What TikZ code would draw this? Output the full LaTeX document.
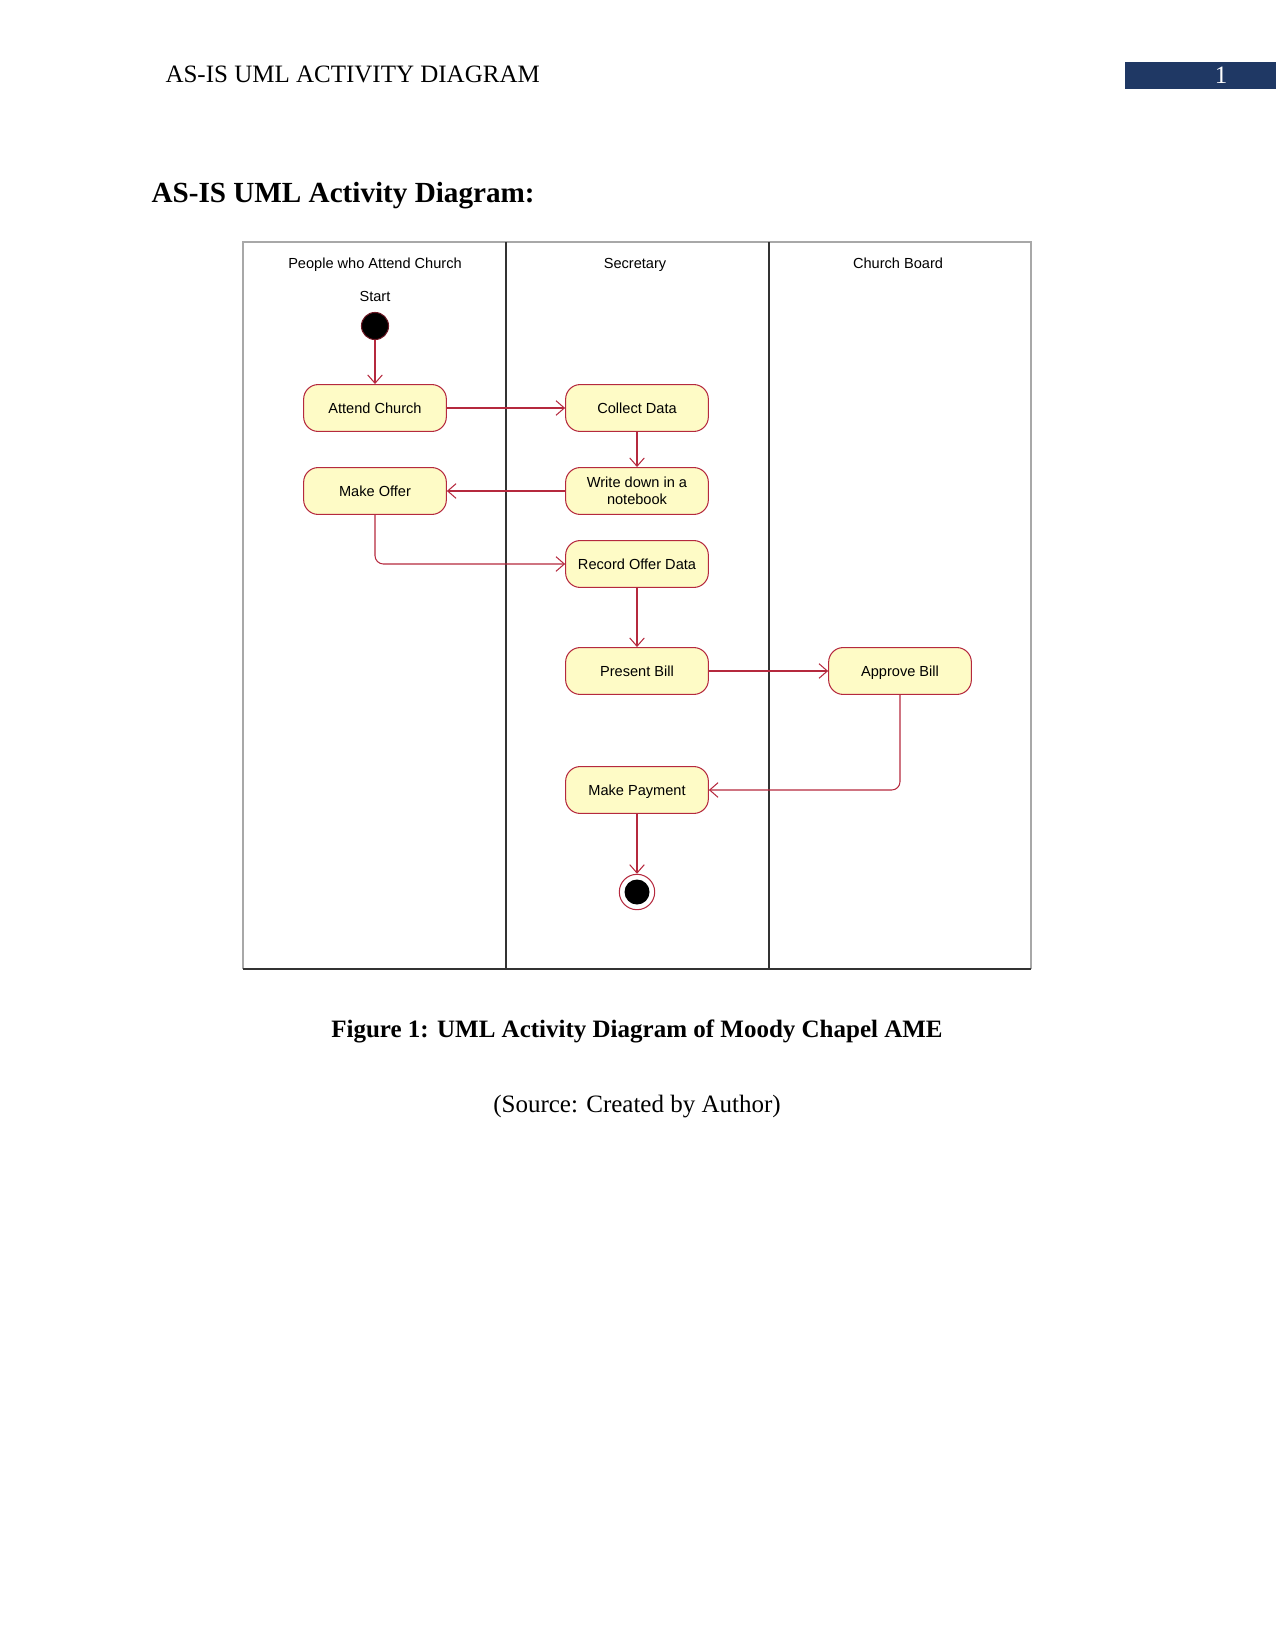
\documentclass[tikz,border=0pt]{standalone}
\usepackage{fontspec}
\setmainfont{Liberation Serif}
\newfontfamily\diagfont{Liberation Sans}
\usetikzlibrary{arrows.meta,positioning}
\definecolor{actFill}{HTML}{FEFBC6}
\definecolor{actLine}{HTML}{B5293E}
\definecolor{laneRule}{HTML}{333333}
\definecolor{laneEdge}{HTML}{A8A8A8}
\definecolor{headBlue}{HTML}{1F3864}

\begin{document}
\begin{tikzpicture}[x=.48pt,y=-.48pt,line width=.5pt,
 actbox/.style={draw=actLine,fill=actFill,rounded corners=7pt,minimum width=68.5pt,minimum height=22.5pt,inner sep=1pt,font=\diagfont\fontsize{7}{8}\selectfont,align=center},
 act/.style={actbox,text height=1.6ex,text depth=.45ex},
 flow/.style={draw=actLine,-{Straight Barb[length=4pt,width=7pt]}},
 lane/.style={font=\diagfont\fontsize{7}{8}\selectfont,anchor=base}]
\useasboundingbox (0,0) rectangle (1275,1651);
% page head
\node[anchor=base west,inner sep=0,font=\fontsize{12}{14}\selectfont] (head) at (165,83) {AS-IS UML ACTIVITY DIAGRAM};
\node[fill=headBlue,minimum width=72.5pt,minimum height=13pt,inner sep=0,anchor=north west] (numbox) at (1124,61) {};
\node[text=white,font=\fontsize{12}{14}\selectfont] (pagenum) at (1221,75) {1};
\node[anchor=base west,inner sep=0,font=\bfseries\fontsize{14}{16}\selectfont] (title) at (151,203) {AS-IS UML Activity Diagram:};
% swimlanes
\draw[laneEdge] (243,969) -- (243,242) -- (1031,242) -- (1031,969);
\draw[laneRule,line width=.6pt] (243,969) -- (1031,969);
\foreach \x in {506,769}
 \draw[laneRule,line width=.7pt] (\x,242) -- (\x,969);
\foreach \x/\nm/\txt in {375/laneA/People who Attend Church,635/laneB/Secretary,898/laneC/Church Board}
 \node[lane] (\nm) at (\x,268) {\txt};
% activities
\node[lane] (startlbl) at (375,301) {Start};
\node[circle,fill=black,draw=actLine!60!black,minimum size=13pt,inner sep=0] (start) at (375,326) {};
\node[act] (attend) at (375,408) {Attend Church};
\node[act] (collect) at (637,408) {Collect Data};
\node[act] (offer) at (375,491) {Make Offer};
\node[actbox] (write) at (637,491) {Write down in a\\notebook};
\node[act] (record) at (637,564) {Record Offer Data};
\node[act] (present) at (637,671) {Present Bill};
\node[act] (approve) at (900,671) {Approve Bill};
\node[act] (payment) at (637,790) {Make Payment};
\node[circle,draw=actLine,fill=white,minimum size=17pt,inner sep=0] (stop) at (637,892) {};
\node[circle,fill=black,minimum size=12pt,inner sep=0] (stopdot) at (stop) {};
% flows
\draw[flow] (start) -- (attend);
\draw[flow] (attend) -- (collect);
\draw[flow] (collect) -- (write);
\draw[flow] (write) -- (offer);
\draw[flow,rounded corners=4pt] (offer) |- (record);
\draw[flow] (record) -- (present);
\draw[flow] (present) -- (approve);
\draw[flow,rounded corners=4pt] (approve) |- (payment);
\draw[flow] (payment) -- (stop);
% caption
\node[anchor=base,font=\bfseries\fontsize{12}{14}\selectfont] (caption) at (637,1037) {Figure 1: UML Activity Diagram of Moody Chapel AME};
\node[anchor=base,font=\fontsize{12}{14}\selectfont] (source) at (637,1112) {(Source: Created by Author)};
\end{tikzpicture}
\end{document}
